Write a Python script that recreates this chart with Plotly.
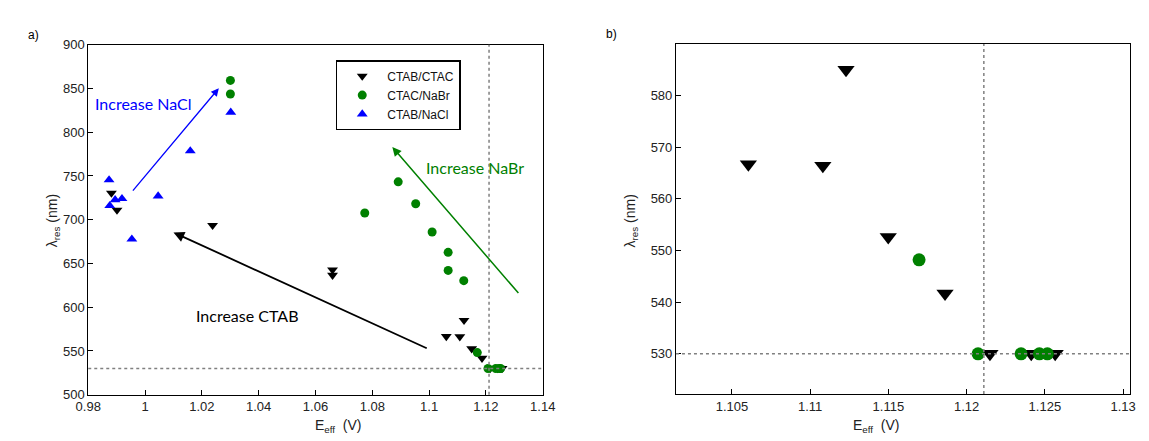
import plotly.graph_objects as go

# ---------------- data ----------------
ctab_ctac_x = [0.98816, 0.99012, 1.02377, 1.0660, 1.0660, 1.10605, 1.11081, 1.11229,
               1.11499, 1.11862, 1.12149, 1.12413, 1.12566]
ctab_ctac_y = [730.4, 711, 693.6, 642.8, 636.6, 566.7, 566.4, 585, 552.6, 541.7, 530, 530, 530]

ctac_nabr_x = [1.03004, 1.03004, 1.07735, 1.08912, 1.09528, 1.10106, 1.1067, 1.1067,
               1.1122, 1.11696, 1.12073, 1.12348, 1.12465, 1.12516]
ctac_nabr_y = [859.2, 843.7, 707.6, 743.3, 718.2, 685.9, 662.7, 642.1, 630.4, 548.2,
               530, 530, 530, 530]

ctab_nacl_x = [0.98733, 0.98757, 0.98946, 0.99187, 0.99535, 1.00460, 1.01592, 1.03017]
ctab_nacl_y = [745.5, 716, 722.8, 724, 677.8, 727, 778.6, 822.7]

series_names = ["CTAB/CTAC", "CTAC/NaBr", "CTAB/NaCl"]

left_xticks = [0.98, 1.0, 1.02, 1.04, 1.06, 1.08, 1.1, 1.12, 1.14]
left_xticklabels = ["0.98", "1", "1.02", "1.04", "1.06", "1.08", "1.1", "1.12", "1.14"]
left_yticks = [500, 550, 600, 650, 700, 750, 800, 850, 900]
right_xticks = [1.105, 1.11, 1.115, 1.12, 1.125, 1.13]
right_xticklabels = ["1.105", "1.11", "1.115", "1.12", "1.125", "1.13"]
right_yticks = [530, 540, 550, 560, 570, 580]

e_threshold = 1.1211
lambda_threshold = 530

# ---------------- figure ----------------
fig = go.Figure()

black = "#000000"
green = "#008000"
blue = "#0000ff"

# left panel
fig.add_trace(go.Scatter(x=ctab_ctac_x, y=ctab_ctac_y, mode="markers", name=series_names[0],
                         marker=dict(symbol="triangle-down", size=9.5, color=black),
                         xaxis="x", yaxis="y"))
fig.add_trace(go.Scatter(x=ctac_nabr_x, y=ctac_nabr_y, mode="markers", name=series_names[1],
                         marker=dict(symbol="circle", size=9, color=green),
                         xaxis="x", yaxis="y"))
fig.add_trace(go.Scatter(x=ctab_nacl_x, y=ctab_nacl_y, mode="markers", name=series_names[2],
                         marker=dict(symbol="triangle-up", size=9.5, color=blue),
                         xaxis="x", yaxis="y"))

# right panel (zoom)
fig.add_trace(go.Scatter(x=ctab_ctac_x, y=ctab_ctac_y, mode="markers", showlegend=False,
                         marker=dict(symbol="triangle-down", size=15, color=black),
                         xaxis="x2", yaxis="y2"))
fig.add_trace(go.Scatter(x=ctac_nabr_x, y=ctac_nabr_y, mode="markers", showlegend=False,
                         marker=dict(symbol="circle", size=13, color=green),
                         xaxis="x2", yaxis="y2"))

axis_common = dict(showline=True, linecolor="black", linewidth=1, mirror=True,
                   ticks="inside", ticklen=5, tickcolor="black", showgrid=False,
                   zeroline=False, tickfont=dict(family="Liberation Sans, Arial", size=13, color="#222"))

fig.update_layout(
    width=1149, height=441,
    margin=dict(l=0, r=0, t=0, b=0),
    paper_bgcolor="white", plot_bgcolor="white",
    xaxis=dict(domain=[0.06701, 0.47171], range=[0.98, 1.14], tickvals=left_xticks,
               ticktext=left_xticklabels, anchor="y", **axis_common),
    yaxis=dict(domain=[0.0898, 0.91156], range=[500, 900], tickvals=left_yticks,
               anchor="x", **axis_common),
    xaxis2=dict(domain=[0.59034, 0.99504], range=[1.10142, 1.13047], tickvals=right_xticks,
                ticktext=right_xticklabels, anchor="y2", **axis_common),
    yaxis2=dict(domain=[0.09138, 0.91315], range=[522.2, 590.0], tickvals=right_yticks,
                anchor="x2", **axis_common),
    legend=dict(x=0.2874, y=0.8753, xanchor="left", yanchor="top",
                bordercolor="black", borderwidth=1.5, bgcolor="white",
                font=dict(family="Liberation Sans, Arial", size=12, color="#111"),
                itemwidth=40, tracegroupgap=0),
    showlegend=True,
)

# threshold dotted lines
dot = dict(color="#808080", width=1.5, dash="dot")
fig.add_shape(type="line", xref="x", yref="y domain", x0=e_threshold, x1=e_threshold, y0=0, y1=1, line=dot)
fig.add_shape(type="line", xref="x domain", yref="y", x0=0, x1=1, y0=lambda_threshold, y1=lambda_threshold, line=dot)
fig.add_shape(type="line", xref="x2", yref="y2 domain", x0=e_threshold, x1=e_threshold, y0=0, y1=1, line=dot)
fig.add_shape(type="line", xref="x2 domain", yref="y2", x0=0, x1=1, y0=lambda_threshold, y1=lambda_threshold, line=dot)

# arrows
arrows = [
    (0.99528, 731.5, 1.02597, 850.3, blue, 1.3),
    (1.09969, 552.3, 1.01001, 685.5, black, 1.8),
    (1.13189, 614.5, 1.08705, 783.0, green, 1.5),
]
for x0, y0, x1, y1, c, w in arrows:
    fig.add_annotation(x=x1, y=y1, ax=x0, ay=y0, xref="x", yref="y", axref="x", ayref="y",
                       showarrow=True, arrowhead=2, arrowsize=1.2, arrowwidth=w, arrowcolor=c, text="")

txt_font = "Lato, Open Sans, sans-serif"
fig.add_annotation(x=0.98151, y=832.7, xref="x", yref="y", text="Increase NaCl", showarrow=False,
                   xanchor="left", font=dict(family=txt_font, size=16, color=blue))
fig.add_annotation(x=1.0361, y=590.6, xref="x", yref="y", text="Increase CTAB", showarrow=False,
                   xanchor="center", font=dict(family=txt_font, size=16, color="black"))
fig.add_annotation(x=1.11613, y=760.2, xref="x", yref="y", text="Increase NaBr", showarrow=False,
                   xanchor="center", font=dict(family=txt_font, size=16, color=green))

# axis titles
tfont = dict(family="Liberation Sans, Arial", size=14, color="#222")
fig.add_annotation(x=30.4 / 1149, y=1 - 221 / 441, xref="paper", yref="paper", textangle=-90,
                   text="λ<sub>res</sub> (nm)", showarrow=False, font=tfont)
fig.add_annotation(x=633.3 / 1149, y=1 - 221 / 441, xref="paper", yref="paper", textangle=-90,
                   text="λ<sub>res</sub> (nm)", showarrow=False, font=tfont)
fig.add_annotation(x=307 / 1149, y=1 - 434 / 441, xref="paper", yref="paper", yanchor="middle",
                   text="E<sub>eff</sub>  (V)", showarrow=False, font=tfont)
fig.add_annotation(x=909.6 / 1149, y=1 - 434 / 441, xref="paper", yref="paper", yanchor="middle",
                   text="E<sub>eff</sub>  (V)", showarrow=False, font=tfont)

# panel labels
fig.add_annotation(x=13 / 1149, y=1 - 20 / 441, xref="paper", yref="paper", text="a)", showarrow=False,
                   font=dict(family="Liberation Sans, Arial", size=12, color="black"))
fig.add_annotation(x=612 / 1149, y=1 - 19 / 441, xref="paper", yref="paper", text="b)", showarrow=False,
                   font=dict(family="Liberation Sans, Arial", size=12, color="black"))

fig.write_html("out.html")
